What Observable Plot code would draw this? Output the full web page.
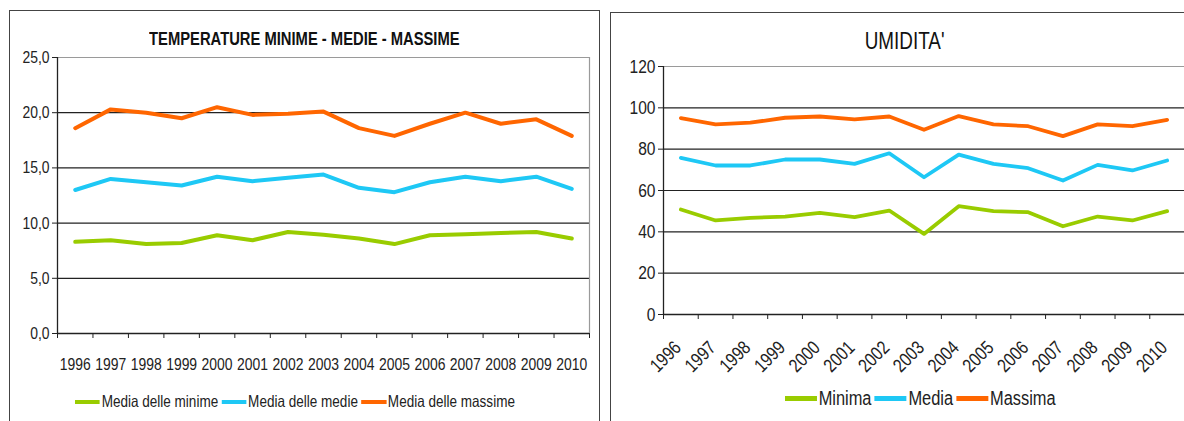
<!DOCTYPE html>
<html>
<head>
<meta charset="utf-8">
<script src="https://cdn.jsdelivr.net/npm/d3@7"></script>
<script src="https://cdn.jsdelivr.net/npm/@observablehq/plot@0.6"></script>
<style>
  html, body { margin: 0; padding: 0; background: #fff; }
  #root { position: relative; width: 1184px; height: 421px; overflow: hidden; background: #fff;
          font-family: "Liberation Sans", Arial, sans-serif; color: #222; }
  .frame { position: absolute; border: 1.5px solid #444; box-sizing: border-box; }
  .title { position: absolute; text-align: center; white-space: nowrap; color: #111; }
  .title span { display: inline-block; transform: scaleX(0.82); transform-origin: 50% 50%; }
  .legend { position: absolute; display: flex; align-items: center; white-space: nowrap; color: #222;
            transform: scaleX(0.82); transform-origin: 0 50%; }
  .legend .sw { display: inline-block; margin-right: 2px; }
  .legend .it { display: flex; align-items: center; margin-right: 4px; }
  .chart { position: absolute; top: 0; }
</style>
</head>
<body>
<div id="root"></div>
<script>
const FONT = '"Liberation Sans", Arial, sans-serif';
const NARROW = 0.82;

// ---- data ----
const years = [1996, 1997, 1998, 1999, 2000, 2001, 2002, 2003, 2004, 2005, 2006, 2007, 2008, 2009, 2010];

const tempTitle = "TEMPERATURE MINIME - MEDIE - MASSIME";
const tempSeries = ["Media delle minime", "Media delle medie", "Media delle massime"];
const tempMin = [8.3, 8.45, 8.1, 8.2, 8.9, 8.45, 9.2, 8.95, 8.6, 8.1, 8.9, 9.0, 9.1, 9.2, 8.6];
const tempMed = [13.0, 14.0, 13.7, 13.4, 14.2, 13.8, 14.1, 14.4, 13.2, 12.8, 13.7, 14.2, 13.8, 14.2, 13.1];
const tempMax = [18.6, 20.3, 20.0, 19.5, 20.5, 19.8, 19.9, 20.1, 18.6, 17.9, 19.0, 20.0, 19.0, 19.4, 17.9];
const tempTicks = [0, 5, 10, 15, 20, 25];

const humTitle = "UMIDITA'";
const humSeries = ["Minima", "Media", "Massima"];
const humMin = [50.8, 45.5, 46.8, 47.4, 49.2, 47.1, 50.3, 39.0, 52.4, 50.0, 49.5, 42.7, 47.4, 45.5, 50.0];
const humMed = [75.8, 72.1, 72.1, 75.0, 75.0, 72.9, 78.0, 66.4, 77.4, 72.9, 70.8, 64.8, 72.4, 69.7, 74.5];
const humMax = [95.0, 92.0, 92.8, 95.2, 95.8, 94.4, 95.8, 89.4, 96.0, 92.0, 91.1, 86.3, 92.0, 91.1, 94.2];
const humTicks = [0, 20, 40, 60, 80, 100, 120];

const seriesColors = ["#99CC00", "#1EC8F5", "#FF6600"];

// ---- helpers ----
function longForm(names, arrays) {
  const out = [];
  names.forEach((n, k) => years.forEach((y, i) => out.push({year: y, value: arrays[k][i], series: n})));
  return out;
}
const xMin = years[0] - 0.5, xMax = years[years.length - 1] + 0.5;
const bounds = years.map(y => y - 0.5).concat([xMax]);

function makeChart(o) {
  const yMax = o.ticks[o.ticks.length - 1];
  const inner = o.ticks.filter(t => t > 0 && t < yMax);
  const svg = Plot.plot({
    width: o.width, height: o.height,
    marginLeft: o.mL, marginRight: o.mR, marginTop: o.mT, marginBottom: o.mB,
    style: {fontFamily: FONT, fontSize: o.fs + "px", color: "#222", background: "transparent", overflow: "visible"},
    x: {domain: [xMin, xMax], axis: null},
    y: {domain: [0, yMax], axis: null},
    color: {domain: o.names, range: seriesColors},
    marks: [
      Plot.ruleY(inner, {stroke: "#222", strokeWidth: 1.2}),
      Plot.ruleY([yMax], {stroke: "#9a9a9a", strokeWidth: 1.2}),
      o.rightBorder ? Plot.ruleX([xMax], {stroke: "#9a9a9a", strokeWidth: 1.2}) : null,
      Plot.ruleY([0], {stroke: "#222", strokeWidth: 1.3}),
      Plot.ruleX([xMin], {stroke: "#222", strokeWidth: 1.3}),
      Plot.axisY({ticks: o.ticks, tickFormat: o.fmt, tickSize: 5, tickPadding: 3, fontSize: o.fs, stroke: "#222", label: null}),
      Plot.axisX({ticks: bounds, tickFormat: () => "", tickSize: 5, stroke: "#222", label: null}),
      o.rotate
        ? Plot.axisX({ticks: years, tickFormat: d => String(d), tickSize: 0, tickPadding: o.tp, tickRotate: -45, dx: -3, fontSize: o.fs, label: null})
        : Plot.axisX({ticks: years, tickFormat: d => String(d), tickSize: 0, tickPadding: o.tp, fontSize: o.fs, label: null}),
      Plot.line(o.data, {x: "year", y: "value", z: "series", stroke: "series", strokeWidth: o.sw, strokeLinejoin: "round"})
    ]
  });
  // narrow (condensed) look for tick labels
  svg.querySelectorAll("text").forEach(t => {
    const tr = t.getAttribute("transform") || "";
    t.setAttribute("transform", tr + " scale(" + NARROW + ",1)");
  });
  return svg;
}

const root = document.getElementById("root");

function addDiv(cls, css) {
  const d = document.createElement("div");
  d.className = cls;
  Object.assign(d.style, css);
  root.appendChild(d);
  return d;
}

// frames
addDiv("frame", {left: "9px", top: "10px", width: "591px", height: "430px"});
addDiv("frame", {left: "610px", top: "12px", width: "600px", height: "430px"});

// left chart
const c1 = makeChart({
  width: 600, height: 421, mL: 57, mR: 11, mT: 57, mB: 88,
  ticks: tempTicks, fmt: d => d.toFixed(1).replace(".", ","), fs: 17, tp: 24, sw: 4,
  names: tempSeries, data: longForm(tempSeries, [tempMin, tempMed, tempMax]), rotate: false, rightBorder: true
});
c1.classList.add("chart");
c1.style.left = "0px";
root.appendChild(c1);

// right chart
const c2 = makeChart({
  width: 584, height: 421, mL: 63, mR: 0, mT: 66, mB: 107,
  ticks: humTicks, fmt: d => String(d), fs: 19, tp: 30, sw: 3.8,
  names: humSeries, data: longForm(humSeries, [humMin, humMed, humMax]), rotate: true, rightBorder: false
});
c2.classList.add("chart");
c2.style.left = "600px";
root.appendChild(c2);

// titles
function title(text, css) {
  const d = addDiv("title", css);
  const s = document.createElement("span");
  s.textContent = text;
  d.appendChild(s);
}
title(tempTitle, {left: "9px", width: "591px", top: "29px", fontSize: "18px", fontWeight: "bold"});
title(humTitle, {left: "610px", width: "590px", top: "28px", fontSize: "23px"});

// legends
function legend(names, left, top, fs, swW, swH) {
  const lg = addDiv("legend", {left: left + "px", top: top + "px", fontSize: fs + "px"});
  names.forEach((n, k) => {
    const it = document.createElement("span");
    it.className = "it";
    const sw = document.createElement("span");
    sw.className = "sw";
    Object.assign(sw.style, {width: (swW / NARROW) + "px", height: swH + "px", background: seriesColors[k]});
    const tx = document.createElement("span");
    tx.textContent = n;
    it.appendChild(sw); it.appendChild(tx);
    lg.appendChild(it);
  });
}
legend(tempSeries, 75, 392, 16.5, 25, 4);
legend(humSeries, 785, 387, 20, 32, 5);
</script>
</body>
</html>
